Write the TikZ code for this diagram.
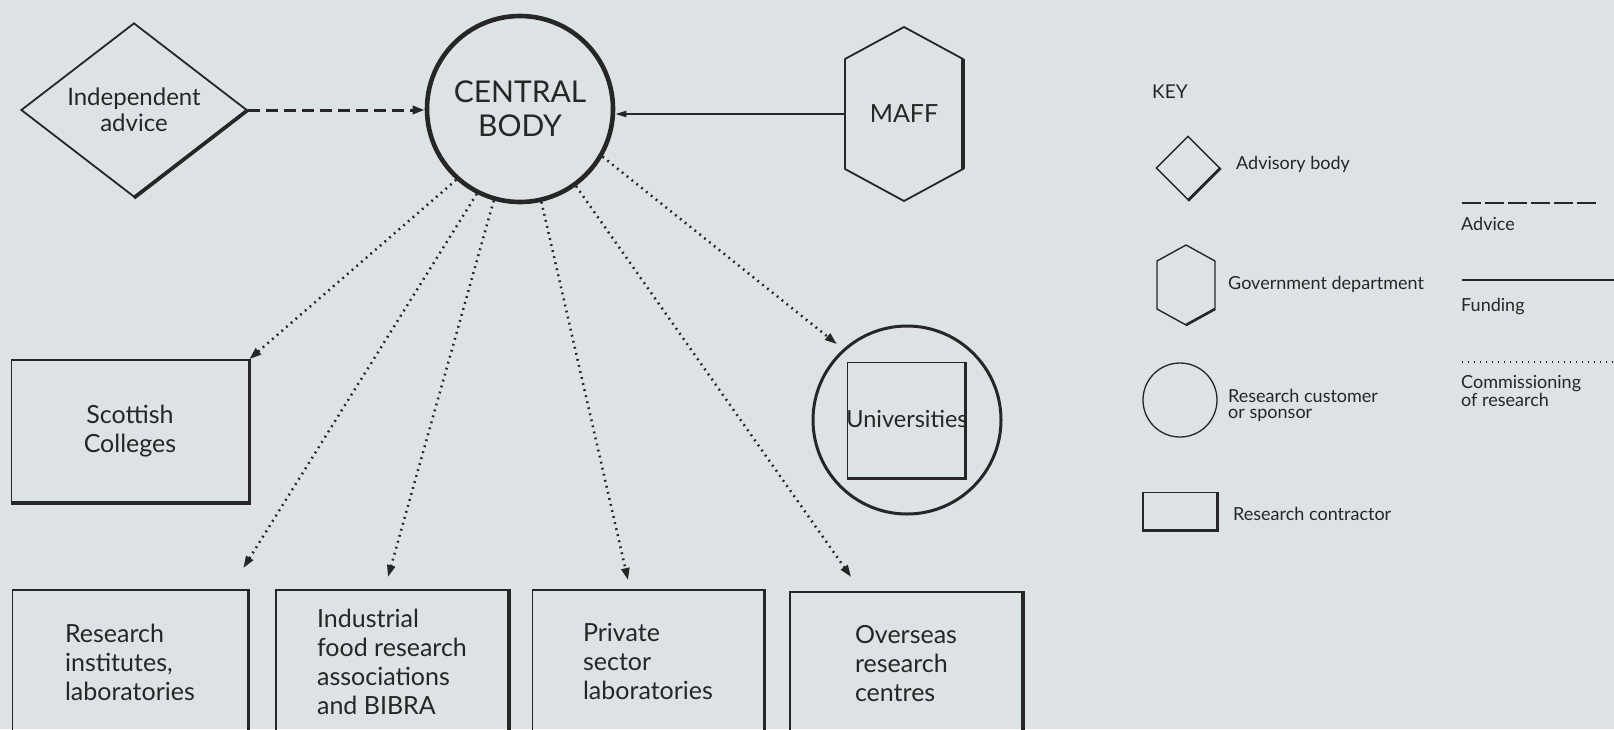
\documentclass[tikz,border=0pt]{standalone}
\usepackage{fontspec}
\setmainfont{Lato}
\usetikzlibrary{arrows.meta,shapes.geometric,calc}
\definecolor{bg}{RGB}{221,226,228}
\definecolor{ink}{RGB}{38,38,38}
\begin{document}
\begin{tikzpicture}[x=1pt,y=-1pt,
  every node/.style={text=ink},
  lbl/.style={font=\fontsize{25}{29}\selectfont, align=left},
  box/.style={draw=ink, line width=1.8pt, rectangle, inner sep=0pt, lbl},
  keytxt/.style={font=\fontsize{18}{16}\selectfont, align=left, anchor=west, inner sep=0pt},
  commission/.style={draw=ink, line width=2.5pt, dash pattern=on 1.8pt off 4.4pt,
     -{Triangle[length=12pt,width=8pt]}},
  advice/.style={draw=ink, line width=3pt, dash pattern=on 12pt off 6pt,
     -{Triangle[length=12pt,width=8pt]}},
  funding/.style={draw=ink, line width=1.8pt, -{Triangle[length=11pt,width=6pt]}},
  shade/.style={draw=ink, line width=3.6pt},
]
\useasboundingbox (0,0) rectangle (1614,729);
\fill[bg] (0,0) rectangle (1614,729);

% ---- main nodes ----
\node[diamond, draw=ink, line width=1.8pt, minimum width=226pt, minimum height=174pt,
      inner sep=0pt, shape aspect=1.3, align=center,
      font=\fontsize{24}{26}\selectfont] (ia) at (134,110) {Independent\\advice};
\draw[shade] (ia.south) -- (ia.east);

\node[circle, draw=ink, line width=4.6pt, minimum size=186pt, inner sep=0pt, align=center,
      font=\fontsize{30}{34}\selectfont] (cb) at (520,109) {CENTRAL\\BODY};

\node[rectangle, minimum width=118pt, minimum height=174pt, inner sep=0pt, outer sep=0pt,
      font=\fontsize{25}{30}\selectfont] (maff) at (904,114) {MAFF};
\draw[ink, line width=1.8pt, line join=round] (maff.north) -- ([yshift=-32pt]maff.north east)
  -- ([yshift=32pt]maff.south east) -- (maff.south) -- ([yshift=32pt]maff.south west)
  -- ([yshift=-32pt]maff.north west) -- cycle;
\draw[shade] ([yshift=-32pt]maff.north east) -- ([yshift=32pt]maff.south east);

\node[box, minimum width=237pt, minimum height=142pt, align=center] (sc) at (130,431) {Scottish\\Colleges};

\node[box, minimum width=235pt, minimum height=144pt, anchor=north] (ri) at (130,589) {Research\\institutes,\\laboratories};
\node[box, minimum width=232pt, minimum height=144pt, anchor=north] (ind) at (392,589) {Industrial\\food research\\associations\\and BIBRA};
\node[box, minimum width=231pt, minimum height=144pt, anchor=north] (pr) at (648,589) {Private\\sector\\laboratories};
\node[box, minimum width=232pt, minimum height=144pt, anchor=north] (ov) at (906,591) {Overseas\\research\\centres};

\node[circle, draw=ink, line width=3pt, minimum size=188pt, inner sep=0pt] (uni) at (907,420) {};
\node[rectangle, draw=ink, line width=1.8pt, minimum width=117pt, minimum height=115pt, inner sep=0pt] (unibox) at (906,420) {};
\node[font=\fontsize{23.5}{26}\selectfont, inner sep=0pt] (unitxt) at (907,419) {Universities};

\foreach \n in {sc,ri,ind,pr,ov,unibox}
  \draw[shade] (\n.north east) -- (\n.south east) -- (\n.south west);

% ---- connectors ----
\draw[advice] (ia.east) -- (cb.west |- ia.east);
\draw[funding] (maff.west) -- (cb.east |- maff.west);

\draw[commission] (cb.228) -- (sc.north east);
\draw[commission] (cb.243) -- ([xshift=-5pt,yshift=21pt]ri.north east);
\draw[commission] (cb.254) -- ([xshift=-4pt,yshift=12pt]ind.north);
\draw[commission] (cb.283) -- ([xshift=-20pt,yshift=9pt]pr.north);
\draw[commission] (cb.306) -- ([xshift=62pt,yshift=14pt]ov.north west);
\draw[commission, shorten >=8pt] (cb.330) -- (uni.132);

% ---- key ----
\node[anchor=west, inner sep=0pt, font=\fontsize{19}{20}\selectfont] (key) at (1152,92) {KEY};

\node[diamond, draw=ink, line width=1.4pt, minimum width=64pt, minimum height=64pt, inner sep=0pt] (kdia) at (1188,168) {};
\draw[ink, line width=2.6pt] (kdia.south) -- (kdia.east);
\node[keytxt] (kdiat) at (1236,164) {Advisory body};

\node[rectangle, minimum width=58pt, minimum height=80pt, inner sep=0pt, outer sep=0pt] (khex) at (1186,285) {};
\draw[ink, line width=1.4pt, line join=round] (khex.north) -- ([yshift=-16pt]khex.north east)
  -- ([yshift=16pt]khex.south east) -- (khex.south) -- ([yshift=16pt]khex.south west)
  -- ([yshift=-16pt]khex.north west) -- cycle;
\draw[ink, line width=2.6pt] ([yshift=16pt]khex.south east) -- (khex.south);
\node[keytxt] (khext) at (1228,284) {Government department};

\node[circle, draw=ink, line width=1.3pt, minimum size=74pt, inner sep=0pt] (kcirc) at (1180,400) {};
\node[keytxt] (kcirct) at (1228,405) {Research customer\\or sponsor};

\node[rectangle, draw=ink, line width=1.4pt, minimum width=74pt, minimum height=37pt, inner sep=0pt] (krect) at (1180,511) {};
\draw[ink, line width=2.8pt] (krect.north east) -- (krect.south east) -- (krect.south west);
\node[keytxt] (krectt) at (1233,514) {Research contractor};

\coordinate (ka1) at (1462,203); \coordinate (ka2) at (1598,203);
\draw[ink, line width=2pt, dash pattern=on 19pt off 4pt] (ka1) -- (ka2);
\node[keytxt] (kat) at (1461,224) {Advice};

\coordinate (kf1) at (1462,280); \coordinate (kf2) at (1614,280);
\draw[ink, line width=1.6pt] (kf1) -- (kf2);
\node[keytxt] (kft) at (1461,307) {Funding};

\coordinate (kc1) at (1462,362); \coordinate (kc2) at (1614,362);
\draw[ink, line width=1.6pt, dash pattern=on 1.4pt off 4.6pt] (kc1) -- (kc2);
\node[keytxt] (kct) at (1461,391) {Commissioning\\of research};
\end{tikzpicture}
\end{document}
